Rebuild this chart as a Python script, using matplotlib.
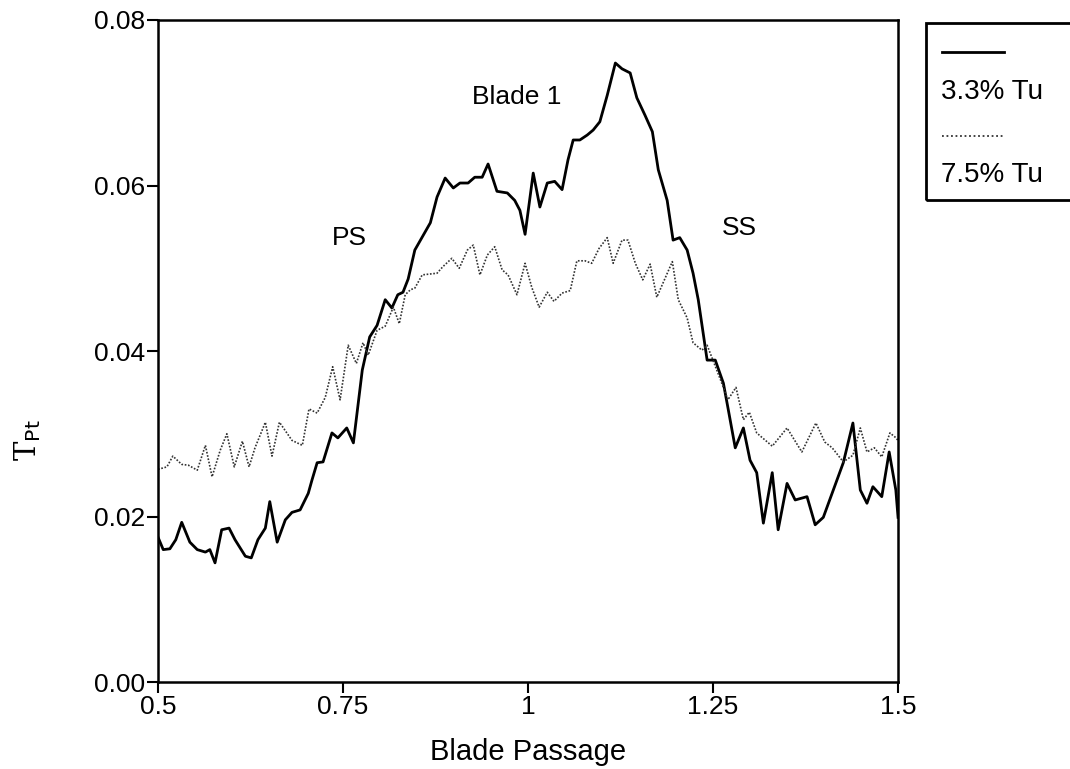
import matplotlib
matplotlib.use("Agg")
import matplotlib.pyplot as plt
from matplotlib.patches import Rectangle
from matplotlib.lines import Line2D

plt.rcParams['font.family'] = ['Liberation Sans', 'DejaVu Sans']

# 3.3% Tu (solid)
x_low = [0.500, 0.507, 0.516, 0.524, 0.532, 0.543, 0.553, 0.564, 0.570, 0.577,
         0.586, 0.596, 0.604, 0.618, 0.626, 0.635, 0.645, 0.651, 0.661, 0.672,
         0.681, 0.692, 0.703, 0.708, 0.715, 0.723, 0.735, 0.743, 0.755, 0.764,
         0.776, 0.786, 0.796, 0.807, 0.816, 0.824, 0.831, 0.838, 0.847, 0.868,
         0.877, 0.888, 0.899, 0.908, 0.919, 0.928, 0.938, 0.946, 0.958, 0.972,
         0.982, 0.989, 0.996, 1.007, 1.016, 1.026, 1.036, 1.046, 1.054, 1.061,
         1.070, 1.080, 1.088, 1.097, 1.107, 1.118, 1.127, 1.138, 1.147, 1.158,
         1.168, 1.176, 1.188, 1.196, 1.205, 1.215, 1.223, 1.230, 1.242, 1.253,
         1.264, 1.270, 1.280, 1.291, 1.300, 1.309, 1.318, 1.330, 1.338, 1.350,
         1.361, 1.377, 1.388, 1.399, 1.426, 1.439, 1.449, 1.458, 1.466, 1.478,
         1.488, 1.497, 1.500]
tu_low = [0.0175, 0.0160, 0.0161, 0.0172, 0.0193, 0.0169, 0.0160, 0.0157, 0.0160, 0.0144,
          0.0184, 0.0186, 0.0172, 0.0152, 0.0150, 0.0172, 0.0186, 0.0218, 0.0169, 0.0196,
          0.0205, 0.0208, 0.0228, 0.0244, 0.0265, 0.0266, 0.0301, 0.0295, 0.0307, 0.0289,
          0.0377, 0.0417, 0.0431, 0.0462, 0.0452, 0.0468, 0.0471, 0.0487, 0.0522, 0.0555,
          0.0586, 0.0609, 0.0597, 0.0603, 0.0603, 0.0610, 0.0610, 0.0626, 0.0593, 0.0591,
          0.0582, 0.0570, 0.0541, 0.0615, 0.0574, 0.0603, 0.0605, 0.0595, 0.0631, 0.0655,
          0.0655, 0.0661, 0.0667, 0.0677, 0.0709, 0.0748, 0.0741, 0.0736, 0.0706, 0.0685,
          0.0665, 0.0619, 0.0582, 0.0534, 0.0537, 0.0522, 0.0494, 0.0462, 0.0389, 0.0389,
          0.0361, 0.0332, 0.0283, 0.0307, 0.0268, 0.0253, 0.0192, 0.0253, 0.0184, 0.0240,
          0.0220, 0.0224, 0.0190, 0.0199, 0.0265, 0.0313, 0.0232, 0.0216, 0.0236, 0.0224,
          0.0278, 0.0232, 0.0199]

# 7.5% Tu (dotted)
x_high = [0.500, 0.512, 0.520, 0.532, 0.541, 0.553, 0.564, 0.573, 0.584, 0.593,
          0.603, 0.614, 0.623, 0.631, 0.641, 0.645, 0.654, 0.664, 0.681, 0.695,
          0.704, 0.715, 0.726, 0.736, 0.746, 0.757, 0.768, 0.777, 0.784, 0.796,
          0.807, 0.818, 0.826, 0.834, 0.841, 0.847, 0.857, 0.877, 0.885, 0.897,
          0.907, 0.918, 0.926, 0.935, 0.945, 0.955, 0.965, 0.973, 0.985, 0.996,
          1.005, 1.015, 1.026, 1.035, 1.046, 1.057, 1.066, 1.077, 1.086, 1.096,
          1.107, 1.115, 1.127, 1.135, 1.145, 1.155, 1.165, 1.174, 1.195, 1.203,
          1.215, 1.223, 1.235, 1.242, 1.255, 1.264, 1.270, 1.281, 1.291, 1.299,
          1.309, 1.330, 1.350, 1.370, 1.389, 1.401, 1.411, 1.426, 1.439, 1.449,
          1.458, 1.468, 1.478, 1.489, 1.496, 1.500]
tu_high = [0.0257, 0.0260, 0.0273, 0.0263, 0.0262, 0.0256, 0.0286, 0.0248, 0.0280, 0.0300,
           0.0260, 0.0291, 0.0260, 0.0283, 0.0305, 0.0314, 0.0273, 0.0314, 0.0292, 0.0286,
           0.0330, 0.0325, 0.0344, 0.0381, 0.0341, 0.0407, 0.0385, 0.0410, 0.0395, 0.0425,
           0.0430, 0.0453, 0.0433, 0.0468, 0.0474, 0.0476, 0.0492, 0.0494, 0.0502, 0.0512,
           0.0500, 0.0522, 0.0528, 0.0492, 0.0516, 0.0526, 0.0498, 0.0492, 0.0468, 0.0506,
           0.0477, 0.0453, 0.0471, 0.0460, 0.0470, 0.0473, 0.0509, 0.0509, 0.0506, 0.0524,
           0.0537, 0.0506, 0.0534, 0.0534, 0.0506, 0.0486, 0.0505, 0.0465, 0.0508, 0.0462,
           0.0440, 0.0410, 0.0401, 0.0407, 0.0377, 0.0356, 0.0341, 0.0356, 0.0317, 0.0326,
           0.0301, 0.0285, 0.0307, 0.0278, 0.0313, 0.0290, 0.0283, 0.0266, 0.0274, 0.0307,
           0.0278, 0.0283, 0.0272, 0.0301, 0.0296, 0.0292]

x_ticks = [0.5, 0.75, 1.0, 1.25, 1.5]
x_ticklabels = ['0.5', '0.75', '1', '1.25', '1.5']
y_ticks = [0.0, 0.02, 0.04, 0.06, 0.08]
y_ticklabels = ['0.00', '0.02', '0.04', '0.06', '0.08']
legend_labels = ['3.3% Tu', '7.5% Tu']

fig = plt.figure(figsize=(10.7, 7.69), dpi=100)
ax = fig.add_axes([0.1477, 0.1131, 0.6916, 0.8609])

ax.plot(x_low, tu_low, color='black', lw=2.0)
ax.plot(x_high, tu_high, color='#333333', lw=1.2, linestyle=(0, (1, 1)))

ax.set_xlim(0.5, 1.5)
ax.set_ylim(0.0, 0.08)
ax.set_xticks(x_ticks)
ax.set_xticklabels(x_ticklabels)
ax.set_yticks(y_ticks)
ax.set_yticklabels(y_ticklabels)
ax.tick_params(direction='out', length=8, width=1.5, labelsize=19, pad=1)
for s in ax.spines.values():
    s.set_linewidth(1.8)
ax.set_xlabel('Blade Passage', fontsize=21, labelpad=14)

ax.text(0.985, 0.0707, 'Blade 1', fontsize=19, ha='center', va='center')
ax.text(0.759, 0.0537, 'PS', fontsize=19, ha='center', va='center')
ax.text(1.286, 0.0549, 'SS', fontsize=19, ha='center', va='center')

fig.text(0.026, 0.428, r'T$_{\mathrm{Pt}}$', rotation=90, fontsize=21,
         family='DejaVu Serif', ha='center', va='center')

# legend box, cut off at the right edge like the scan
fig.add_artist(Rectangle((0.8654, 0.740), 0.16, 0.230, transform=fig.transFigure,
                         fill=False, lw=2.0, color='black', clip_on=False))
fig.add_artist(Line2D([0.880, 0.938], [0.932, 0.932], transform=fig.transFigure,
                      color='black', lw=2.0))
fig.text(0.879, 0.880, legend_labels[0], fontsize=20, va='center')
fig.add_artist(Line2D([0.880, 0.938], [0.823, 0.823], transform=fig.transFigure,
                      color='#333333', lw=1.3, linestyle=(0, (1, 1.5))))
fig.text(0.879, 0.772, legend_labels[1], fontsize=20, va='center')

fig.savefig('out.png', dpi=100)
